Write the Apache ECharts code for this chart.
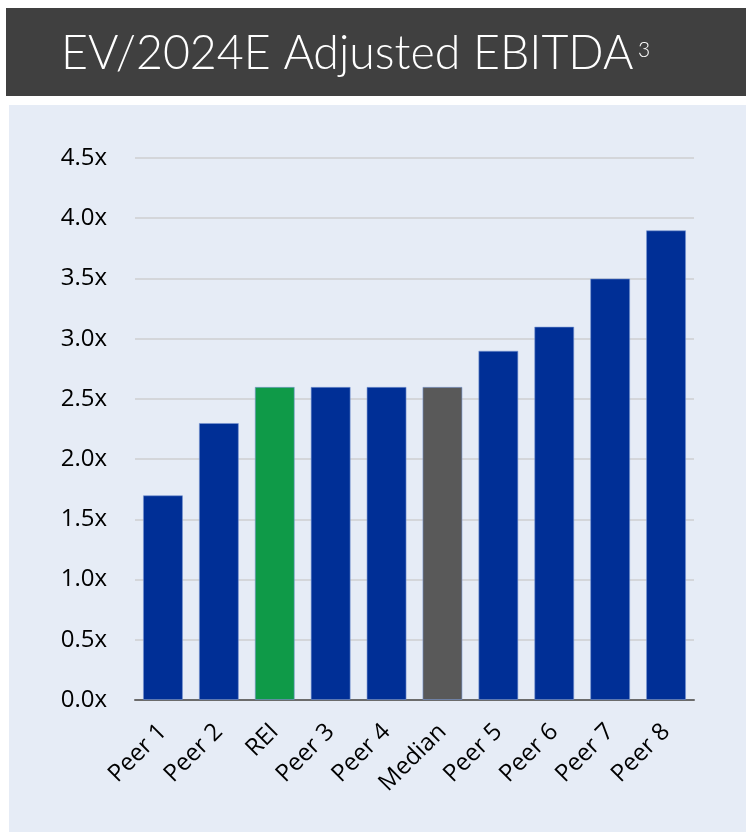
<!DOCTYPE html>
<html><head><meta charset="utf-8">
<script src="https://cdn.jsdelivr.net/npm/echarts@6/dist/echarts.min.js"></script>
<style>html,body{margin:0;padding:0;background:#fff}#c{width:746px;height:832px}</style>
</head><body><div id="c"></div>
<script>
const categories = ['Peer 1','Peer 2','REI','Peer 3','Peer 4','Median','Peer 5','Peer 6','Peer 7','Peer 8'];
const values = [1.7, 2.3, 2.6, 2.6, 2.6, 2.6, 2.9, 3.1, 3.5, 3.9];
const barColors = ['#002F96','#002F96','#0F9A48','#002F96','#002F96','#595959','#002F96','#002F96','#002F96','#002F96'];
const yTicks = [0, 0.5, 1, 1.5, 2, 2.5, 3, 3.5, 4, 4.5];
const titleText = 'EV/2024E Adjusted EBITDA';
const titleNote = '3';

const chart = echarts.init(document.getElementById('c'), null, {renderer:'canvas'});
chart.setOption({
  animation:false,
  backgroundColor:'#ffffff',
  graphic:[
    {type:'rect', shape:{x:6,y:8,width:740,height:88}, style:{fill:'#404040'}, z:-10},
    {type:'rect', shape:{x:9,y:105,width:737,height:727}, style:{fill:'#E6ECF6'}, z:-10},
    {type:'text', x:61, y:54, z:10, style:{
      text:titleText, fill:'#ffffff', font:'300 46.5px Lato', textVerticalAlign:'middle'
    }},
    {type:'text', x:638, y:50, z:10, style:{
      text:titleNote, fill:'#ffffff', font:'300 21px Lato', textVerticalAlign:'middle'
    }}
  ],
  grid:{left:135, right:52, top:158, bottom:132, containLabel:false},
  xAxis:{
    type:'category', data:categories,
    axisLine:{lineStyle:{color:'#6b6b6b', width:2}},
    axisTick:{show:false},
    axisLabel:{rotate:45, interval:0, margin:28, color:'#000', fontSize:24, fontFamily:'Open Sans'}
  },
  yAxis:{
    type:'value', min:0, max:4.5, interval:0.5,
    axisLine:{show:false}, axisTick:{show:false},
    splitLine:{lineStyle:{color:'#d4d6da', width:2}},
    axisLabel:{margin:28, color:'#000', fontSize:24, fontFamily:'Open Sans',
      formatter:v=>v.toFixed(1)+'x'}
  },
  series:[{
    type:'bar', barWidth:40,
    data: values.map((v,i)=>({value:v, itemStyle:{color:barColors[i], borderColor:'rgba(120,150,210,0.6)', borderWidth:1}})),
  }]
});
</script></body></html>
